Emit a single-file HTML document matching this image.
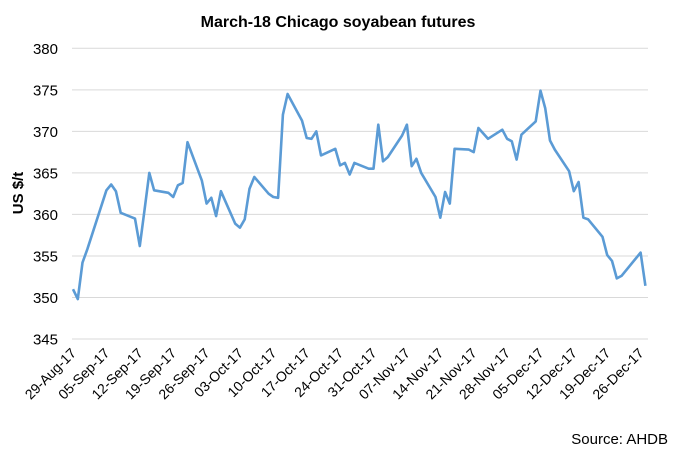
<!DOCTYPE html>
<html><head><meta charset="utf-8">
<style>
html,body{margin:0;padding:0;background:#fff;}
svg{display:block;font-family:"Liberation Sans",Arial,sans-serif;}
</style></head>
<body>
<svg id="chart" width="677" height="451" viewBox="0 0 677 451">
  <text x="338" y="27" text-anchor="middle" font-size="16" font-weight="bold" fill="#000">March-18 Chicago soyabean futures</text>
  <text transform="translate(23,193) rotate(-90)" text-anchor="middle" font-size="15" font-weight="bold" fill="#000">US $/t</text>
  <g id="grid"></g>
  <g id="yticks"></g>
  <g id="xticks"></g>
  <path id="line" fill="none" stroke="#5b9bd5" stroke-width="2.6" stroke-linejoin="round"></path>
  <text x="668" y="444" text-anchor="end" font-size="15" fill="#000">Source: AHDB</text>
</svg>
<script>
const dayOffsets = [0,1,2,3,7,8,9,10,13,14,15,16,17,20,21,22,23,24,27,28,29,30,31,34,35,36,37,38,41,42,43,44,45,48,49,50,51,52,55,56,57,58,59,62,63,64,65,66,69,70,71,72,73,76,77,78,79,80,83,84,85,87,90,91,92,93,94,97,98,99,100,101,104,105,106,107,108,111,112,113,114,115,119,120];
const prices = [351.0,349.8,354.2,355.8,362.9,363.6,362.8,360.2,359.5,356.2,360.6,365.0,362.9,362.6,362.1,363.5,363.8,368.7,364.1,361.3,362.0,359.8,362.8,358.9,358.4,359.4,363.1,364.5,362.5,362.1,362.0,372.0,374.5,371.3,369.2,369.1,370.0,367.1,367.9,365.9,366.2,364.8,366.2,365.5,365.5,370.8,366.4,366.9,369.5,370.8,365.8,366.7,365.0,362.1,359.6,362.7,361.3,367.9,367.8,367.5,370.4,369.1,370.2,369.1,368.8,366.6,369.6,371.2,374.9,372.8,368.9,367.8,365.2,362.8,363.9,359.6,359.4,357.3,355.1,354.4,352.3,352.6,355.4,351.4];
const yTicks = [345,350,355,360,365,370,375,380];
const xTickLabels = ["29-Aug-17","05-Sep-17","12-Sep-17","19-Sep-17","26-Sep-17","03-Oct-17","10-Oct-17","17-Oct-17","24-Oct-17","31-Oct-17","07-Nov-17","14-Nov-17","21-Nov-17","28-Nov-17","05-Dec-17","12-Dec-17","19-Dec-17","26-Dec-17"];

const NS = "http://www.w3.org/2000/svg";
const X0 = 73, DAY = 4.77, PL = 72, PR = 648;
const yScale = v => 339 - (v - 345) * (339 - 48.3) / 35;
const xScale = d => X0 + d * DAY;

const grid = document.getElementById('grid');
const yt = document.getElementById('yticks');
yTicks.forEach(v => {
  const y = yScale(v);
  const l = document.createElementNS(NS, 'line');
  
  
  l.setAttribute('x1', PL); l.setAttribute('x2', PR);
  l.setAttribute('y1', y); l.setAttribute('y2', y);
  l.setAttribute('stroke', '#d9d9d9'); l.setAttribute('stroke-width', '1');
  grid.appendChild(l);
  const t = document.createElementNS(NS, 'text');
  
  
  t.setAttribute('x', 58); t.setAttribute('y', y + 5.5);
  t.setAttribute('text-anchor', 'end'); t.setAttribute('font-size', '15'); t.setAttribute('fill', '#000');
  t.textContent = v;
  yt.appendChild(t);
});

const xt = document.getElementById('xticks');
xTickLabels.forEach((lab, i) => {
  const x = xScale(i * 7);
  const t = document.createElementNS(NS, 'text');
  
  
  t.setAttribute('transform', 'translate(' + (x + 4) + ',354) rotate(-45)');
  t.setAttribute('text-anchor', 'end'); t.setAttribute('font-size', '14'); t.setAttribute('fill', '#000');
  t.textContent = lab;
  xt.appendChild(t);
});

let d = '';
dayOffsets.forEach((o, i) => {
  d += (i ? 'L' : 'M') + xScale(o).toFixed(1) + ' ' + yScale(prices[i]).toFixed(1);
});
document.getElementById('line').setAttribute('d', d);
</script>
</body></html>
